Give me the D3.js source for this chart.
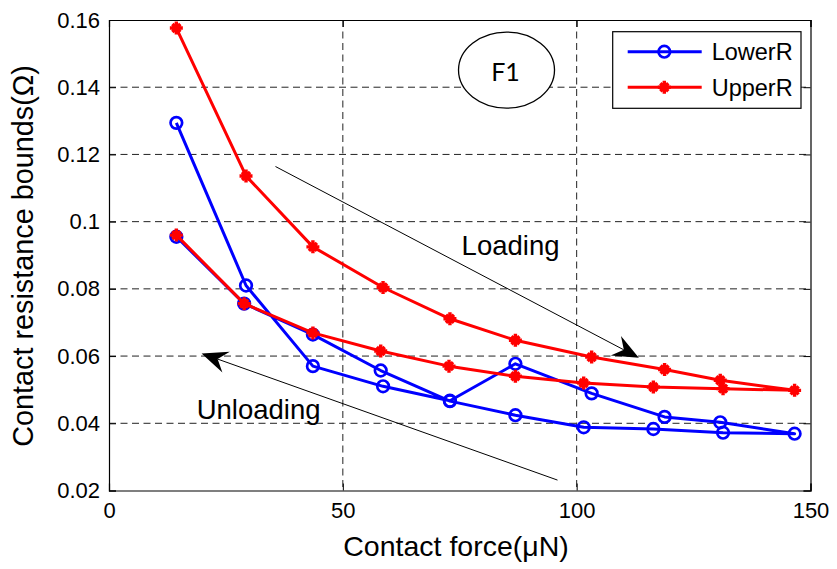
<!DOCTYPE html>
<html><head><meta charset="utf-8">
<script src="https://cdn.jsdelivr.net/npm/d3@7"></script>
<style>body{margin:0;background:#fff}svg{display:block}text{font-family:"Liberation Sans",Arial,sans-serif;fill:#000}</style>
</head><body><svg id="c" width="837" height="569"></svg>
<script>
// Data (forces in µN, resistance in Ω); loading path then unloading path back
const forceLower = [14.4, 29.3, 43.6, 58.6, 72.9, 86.9, 103.2, 118.8, 130.7, 146.6, 131.3, 116.4, 101.5, 86.9, 72.9, 58.1, 43.6, 28.9, 14.4];
const lowerR     = [0.1294, 0.0810, 0.0570, 0.0510, 0.0467, 0.0577, 0.0489, 0.0419, 0.0403, 0.0369, 0.0372, 0.0383, 0.0388, 0.0424, 0.0466, 0.0557, 0.0664, 0.0756, 0.0955];
const forceUpper = [14.4, 29.3, 43.6, 58.6, 72.9, 86.9, 103.2, 118.8, 130.7, 146.6, 131.3, 116.4, 101.5, 86.9, 72.7, 58.1, 43.6, 28.9, 14.4];
const upperR     = [0.1576, 0.1136, 0.0925, 0.0804, 0.0711, 0.0647, 0.0597, 0.0560, 0.0528, 0.0498, 0.0503, 0.0508, 0.0520, 0.0540, 0.0570, 0.0615, 0.0669, 0.0756, 0.0960];
const xTicks = [0, 50, 100, 150];
const xTickLabels = ["0", "50", "100", "150"];
const yTicks = [0.02, 0.04, 0.06, 0.08, 0.10, 0.12, 0.14, 0.16];
const yTickLabels = ["0.02", "0.04", "0.06", "0.08", "0.1", "0.12", "0.14", "0.16"];
const seriesNames = ["LowerR", "UpperR"];
const seriesColors = ["#0000ff", "#ff0000"];
const xLabel = "Contact force(\u03bcN)";
const yLabel = "Contact resistance bounds(\u03a9)";

const svg = d3.select("#c");
const L = 109, R = 810.5, T = 20, B = 490.5;
const x = d3.scaleLinear().domain([0, 150]).range([L, R]);
const y = d3.scaleLinear().domain([0.02, 0.16]).range([B, T]);

// grid
const grid = svg.append("g").attr("stroke", "#222").attr("stroke-width", 1).attr("stroke-dasharray", "7,4.5");
grid.selectAll("line.h").data(yTicks.filter(v => v > 0.021 && v < 0.159)).join("line")
  .attr("x1", L).attr("x2", R).attr("y1", d => y(d)).attr("y2", d => y(d));
grid.selectAll("line.v").data(xTicks.filter(v => v > 0 && v < 150)).join("line")
  .attr("x1", d => x(d)).attr("x2", d => x(d)).attr("y1", T).attr("y2", B);

// axes (MATLAB-like inward ticks, box)
const tl = 7;
const axB = svg.append("g").attr("transform", `translate(0,${B})`).call(d3.axisBottom(x).tickValues(xTicks).tickSize(-tl).tickPadding(12).tickFormat((d, i) => xTickLabels[i]));
const axT = svg.append("g").attr("transform", `translate(0,${T})`).call(d3.axisTop(x).tickValues(xTicks).tickSize(-tl).tickFormat(""));
const axL = svg.append("g").attr("transform", `translate(${L},0)`).call(d3.axisLeft(y).tickValues(yTicks).tickSize(-tl).tickPadding(9).tickFormat((d, i) => yTickLabels[i]));
const axR = svg.append("g").attr("transform", `translate(${R},0)`).call(d3.axisRight(y).tickValues(yTicks).tickSize(-tl).tickFormat(""));
[axB, axT, axL, axR].forEach(a => {
  a.select(".domain").attr("stroke", "#000").attr("stroke-width", 1.2);
  a.selectAll(".tick line").attr("stroke", "#000");
  a.selectAll("text").attr("font-size", 22).attr("font-family", "Liberation Sans, Arial, sans-serif").attr("fill", "#000");
});

// axis labels
svg.append("text").attr("x", 456).attr("y", 556).attr("text-anchor", "middle").attr("font-size", 28.5).text(xLabel);
svg.append("text").attr("transform", "translate(33,256) rotate(-90)").attr("text-anchor", "middle").attr("font-size", 28.8).text(yLabel);

// lines
const line = d3.line().x(d => x(d[0])).y(d => y(d[1]));
const lowerPts = forceLower.map((f, i) => [f, lowerR[i]]);
const upperPts = forceUpper.map((f, i) => [f, upperR[i]]);
svg.append("path").datum(lowerPts).attr("d", line).attr("fill", "none").attr("stroke", seriesColors[0]).attr("stroke-width", 3).attr("stroke-linejoin", "round");
svg.selectAll("circle.m").data(lowerPts).join("circle").attr("cx", d => x(d[0])).attr("cy", d => y(d[1])).attr("r", 5.8)
  .attr("fill", "none").attr("stroke", seriesColors[0]).attr("stroke-width", 2.7);

const starPath = (a, b) => `M${-a},0L${a},0M0,${-a}L0,${a}M${-b},${-b}L${b},${b}M${-b},${b}L${b},${-b}`;
svg.append("path").datum(upperPts).attr("d", line).attr("fill", "none").attr("stroke", seriesColors[1]).attr("stroke-width", 3).attr("stroke-linejoin", "round");
svg.selectAll("path.s").data(upperPts).join("path").attr("transform", d => `translate(${x(d[0])},${y(d[1])})`)
  .attr("d", starPath(6.5, 4)).attr("stroke", seriesColors[1]).attr("stroke-width", 3.4).attr("fill", "none");

// annotations: arrows
function arrow(x0, y0, x1, y1) {
  const X0 = x(x0), Y0 = y(y0), X1 = x(x1), Y1 = y(y1);
  const dx = X1 - X0, dy = Y1 - Y0, len = Math.hypot(dx, dy), ux = dx / len, uy = dy / len, px = -uy, py = ux;
  const hl = 26, hw = 11, nb = 17;
  svg.append("line").attr("x1", X0).attr("y1", Y0).attr("x2", X1 - ux * nb).attr("y2", Y1 - uy * nb).attr("stroke", "#000").attr("stroke-width", 1);
  const p = [[X1, Y1], [X1 - ux * hl + px * hw, Y1 - uy * hl + py * hw], [X1 - ux * nb, Y1 - uy * nb], [X1 - ux * hl - px * hw, Y1 - uy * hl - py * hw]];
  svg.append("path").attr("d", "M" + p.map(q => q.join(",")).join("L") + "Z").attr("fill", "#000");
}
arrow(35.6, 0.1164, 113.3, 0.0595);
arrow(95.9, 0.0231, 19.8, 0.0608);
svg.append("text").attr("x", x(75.4)).attr("y", y(0.0901)).attr("font-size", 27.5).text("Loading");
svg.append("text").attr("x", x(18.75)).attr("y", y(0.0413)).attr("font-size", 27.5).text("Unloading");

// F1 ellipse
svg.append("ellipse").attr("cx", x(85.0)).attr("cy", y(0.1451)).attr("rx", 48).attr("ry", 38).attr("fill", "#fff").attr("stroke", "#000").attr("stroke-width", 1.3);
svg.append("text").attr("x", x(85.0) - 1).attr("y", y(0.1451) + 2).attr("dy", "0.35em").attr("text-anchor", "middle").style("font-family", "Lato, 'Noto Sans', sans-serif").attr("font-size", 25).text("F1");

// legend
const lg = svg.append("g");
lg.append("rect").attr("x", 612.7).attr("y", 31.7).attr("width", 188.3).attr("height", 76.6).attr("fill", "#fff").attr("stroke", "#000").attr("stroke-width", 1.2);
const ly = [51.7, 87.3];
seriesNames.forEach((n, i) => {
  lg.append("line").attr("x1", 627.7).attr("x2", 701.7).attr("y1", ly[i]).attr("y2", ly[i]).attr("stroke", seriesColors[i]).attr("stroke-width", 3);
  if (i === 0) lg.append("circle").attr("cx", 664.3).attr("cy", ly[i]).attr("r", 5.8).attr("fill", "none").attr("stroke", seriesColors[i]).attr("stroke-width", 2.7);
  else lg.append("path").attr("transform", `translate(664.3,${ly[i]})`).attr("d", starPath(6.5, 4)).attr("stroke", seriesColors[i]).attr("stroke-width", 3.4);
  lg.append("text").attr("x", 711.7).attr("y", ly[i]).attr("dy", "0.36em").attr("font-size", 23.5).text(n);
});
</script></body></html>
